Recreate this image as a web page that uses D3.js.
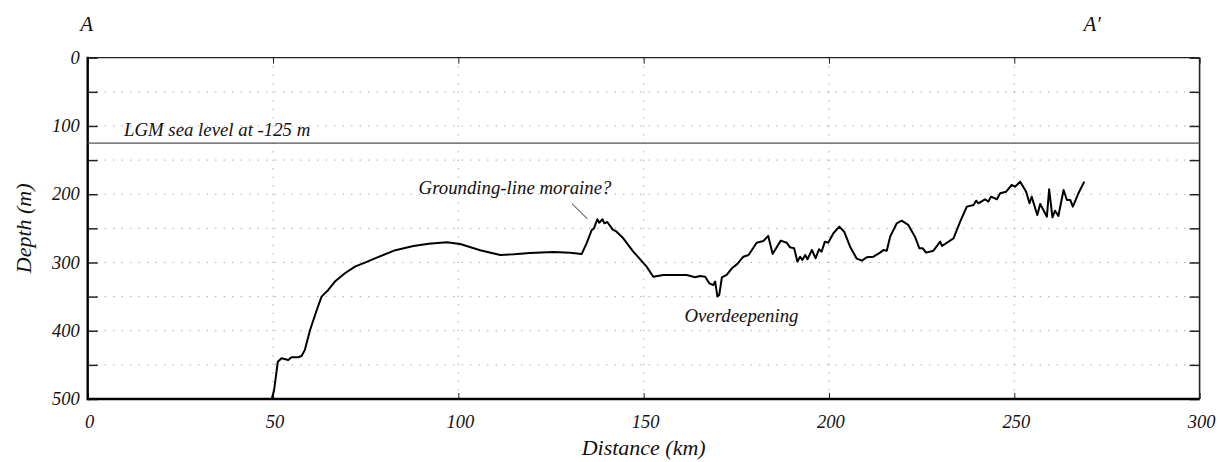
<!DOCTYPE html>
<html><head><meta charset="utf-8">
<script src="https://cdn.jsdelivr.net/npm/d3@7"></script>
<style>
body{margin:0;background:#fff;}
text{font-family:"Liberation Serif","DejaVu Serif",serif;font-style:italic;fill:#111;}
</style></head>
<body><svg id="chart" width="1221" height="462"></svg>
<script>
// ---- data ----
const distanceKm = [49.65,50.3,51.3,52.3,54.1,55.0,56.8,57.7,58.6,60.0,61.8,63.1,64.9,66.7,69.4,72.1,74.8,77.5,83.0,87.9,92.0,96.9,100.5,105.9,111.3,115.0,119.3,125.6,130.2,133.3,134.6,136.0,136.6,137.5,138.0,138.9,139.4,140.2,141.6,142.7,144.5,147.2,150.8,152.6,155.3,157.1,161.6,163.9,165.2,166.6,167.7,168.8,169.3,169.9,170.4,171.1,172.4,173.8,175.3,176.9,178.3,180.5,182.3,183.6,184.8,185.9,187.0,188.6,189.5,190.6,191.5,192.2,192.8,193.6,194.2,195.4,196.4,197.3,198.0,198.9,199.8,201.2,202.8,204.1,205.7,207.5,208.9,210.2,212.0,213.8,214.7,215.6,216.5,218.3,219.6,221.4,223.2,224.4,225.3,226.2,228.2,230.0,230.5,233.6,235.4,237.2,239.0,239.7,240.3,242.1,243.0,243.7,245.3,246.2,247.8,249.3,250.2,251.6,253.2,254.1,254.7,256.2,257.0,258.8,259.4,260.3,261.0,261.9,263.3,264.2,265.1,265.8,267.3,268.9];
const depthM = [500,486.7,445.3,440.3,442.8,438.9,438.9,437,428,398.9,369.6,350,340.3,328,315.8,306,300.3,293.9,282,276,272.5,270.4,273,282,289,288,286,284.6,285.6,287.5,271.9,252.4,250,236.7,241.7,236.7,242.6,240.7,251.4,254.9,264.6,284,306,320.8,318.3,318.3,318.3,321.7,319.8,320.8,330.5,333,328,350,347.6,321.7,318.3,308.5,302,291.5,289,271,268.5,261,287.5,277.8,268,271,277.8,279.2,298.8,291.5,296.3,289,295.3,281.7,293.8,280.7,284.2,269.5,271,257.2,247.5,254.9,276.8,294.4,297.3,292.4,291.5,285.6,281.7,282.7,262.2,242.6,238.8,245,262.2,279.2,279.2,285.6,282.7,269.5,275.8,264.6,240.2,218.2,215.8,209.5,213.3,207.4,210.9,203.6,207.4,198.6,196.3,186.5,189,181.6,196.3,213.3,203.6,230.4,214.3,232.9,192.8,233.8,224.1,231.9,193.8,208.4,208.4,218.2,198.6,181.6];
const xTicks = [0,50,100,150,200,250,300];
const yTicks = [0,50,100,150,200,250,300,350,400,450,500];
const yTickLabels = ["0","","100","","200","","300","","400","","500"];
const seaLevel = 125;
const seaLabel = "LGM sea level at -125 m";
const annoMoraine = {text:"Grounding-line moraine?", km:115.3, depth:200, lx1:130.7, ly1:214, lx2:134.8, ly2:236};
const annoOver = {text:"Overdeepening", km:176.4, depth:387};

// ---- layout ----
const svg = d3.select("#chart");
const m = {l:87.7, t:57.7, r:1221-1199.6, b:462-399};
const W = 1221 - m.l - m.r, H = 462 - m.t - m.b;
const x = d3.scaleLinear().domain([0,300]).range([m.l, m.l+W]);
const y = d3.scaleLinear().domain([0,500]).range([m.t, m.t+H]);

// grid
const g = svg.append("g");
g.selectAll(".gx").data(xTicks.slice(1,-1)).enter().append("line")
  .attr("x1",d=>x(d)).attr("x2",d=>x(d)).attr("y1",y(0)).attr("y2",y(500))
  .attr("stroke","#9a9a9a").attr("stroke-width",1).attr("stroke-dasharray","1.2,7.3");
g.selectAll(".gy").data(yTicks.slice(1,-1)).enter().append("line")
  .attr("y1",d=>y(d)).attr("y2",d=>y(d)).attr("x1",x(0)).attr("x2",x(300))
  .attr("stroke","#9a9a9a").attr("stroke-width",1).attr("stroke-dasharray","1.2,7.3");

// axes (inward ticks)
const fs = 18.5;
const axL = d3.axisRight(y).tickValues(yTicks).tickSize(10).tickFormat("");
const axR = d3.axisLeft(y).tickValues(yTicks).tickSize(10).tickFormat("");
const axB = d3.axisTop(x).tickValues(xTicks).tickSize(6).tickFormat("");
const axT = d3.axisBottom(x).tickValues(xTicks).tickSize(6).tickFormat("");
function style(sel, w){
  sel.select(".domain").remove();
  sel.selectAll(".tick line").attr("stroke","#222").attr("stroke-width",w);
}
svg.append("g").attr("transform",`translate(${x(0)},0)`).call(axL).call(s=>style(s,1.5));
svg.append("g").attr("transform",`translate(${x(300)},0)`).call(axR).call(s=>style(s,1.5));
svg.append("g").attr("transform",`translate(0,${y(500)})`).call(axB).call(s=>style(s,1));
svg.append("g").attr("transform",`translate(0,${y(0)})`).call(axT).call(s=>style(s,1));

// frame
svg.append("line").attr("x1",x(0)).attr("x2",x(300)).attr("y1",y(0)).attr("y2",y(0)).attr("stroke","#222").attr("stroke-width",1.3);
svg.append("line").attr("x1",x(300)).attr("x2",x(300)).attr("y1",y(0)).attr("y2",y(500)).attr("stroke","#222").attr("stroke-width",1.6);
svg.append("line").attr("x1",x(0)).attr("x2",x(0)).attr("y1",y(0)-1).attr("y2",y(500)+1.2).attr("stroke","#000").attr("stroke-width",2.4);
svg.append("line").attr("x1",x(0)).attr("x2",x(300)).attr("y1",y(500)).attr("y2",y(500)).attr("stroke","#000").attr("stroke-width",2.4);

// tick labels
svg.selectAll(".yl").data(yTicks).enter().append("text")
  .attr("x",x(0)-8).attr("y",d=>y(d)).attr("dy","0.33em").attr("text-anchor","end")
  .attr("font-size",fs).text((d,i)=>yTickLabels[i]);
svg.selectAll(".xl").data(xTicks).enter().append("text")
  .attr("x",d=>x(d)+2).attr("y",y(500)+29).attr("text-anchor","middle")
  .attr("font-size",fs).text(d=>d);

// axis titles
svg.append("text").attr("x",x(150)).attr("y",y(500)+56).attr("text-anchor","middle").attr("font-size",22).text("Distance (km)");
svg.append("text").attr("transform",`translate(31,${y(250)}) rotate(-90)`).attr("text-anchor","middle").attr("font-size",22).text("Depth (m)");

// A labels
svg.append("text").attr("x",x(0)-1).attr("y",31).attr("text-anchor","middle").attr("font-size",21).text("A");
svg.append("text").attr("x",x(271)).attr("y",31).attr("text-anchor","middle").attr("font-size",21).text("A\u2032");

// sea level
svg.append("line").attr("x1",x(0)).attr("x2",x(300)).attr("y1",y(seaLevel)).attr("y2",y(seaLevel)).attr("stroke","#555").attr("stroke-width",1.3);
svg.append("text").attr("x",x(9.8)).attr("y",y(seaLevel)-7).attr("font-size",fs+0.3).text(seaLabel);

// profile
const pts = distanceKm.map((d,i)=>[d, depthM[i]]);
svg.append("path").datum(pts)
  .attr("d", d3.line().x(d=>x(d[0])).y(d=>y(d[1])))
  .attr("fill","none").attr("stroke","#000").attr("stroke-width",2).attr("stroke-linejoin","round");

// annotations
svg.append("text").attr("x",x(annoMoraine.km)).attr("y",y(annoMoraine.depth)).attr("text-anchor","middle").attr("font-size",fs+0.3).text(annoMoraine.text);
svg.append("line").attr("x1",x(annoMoraine.lx1)).attr("y1",y(annoMoraine.ly1)).attr("x2",x(annoMoraine.lx2)).attr("y2",y(annoMoraine.ly2)).attr("stroke","#222").attr("stroke-width",1);
svg.append("text").attr("x",x(annoOver.km)).attr("y",y(annoOver.depth)).attr("text-anchor","middle").attr("font-size",fs+0.3).text(annoOver.text);
</script></body></html>
